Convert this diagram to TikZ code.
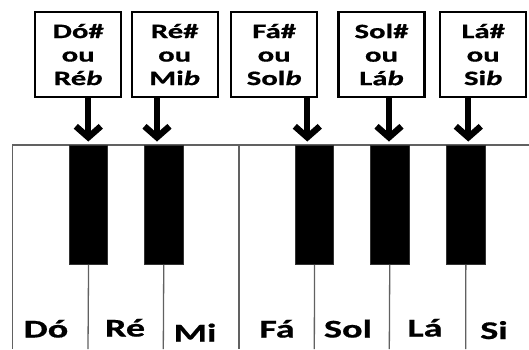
\documentclass[tikz,border=0pt]{standalone}
\usepackage{fontspec}
\setmainfont{Carlito}[FakeStretch=1.5,BoldFeatures={FakeBold=0.7},BoldItalicFeatures={FakeBold=0.7}]
\usetikzlibrary{arrows.meta}
\begin{document}
\begin{tikzpicture}[x=1pt,y=-1pt,
  notebox/.style={draw=black,line width=2.4pt,minimum width=86pt,minimum height=84.7pt,inner sep=0pt,anchor=north west,align=center,
    font=\bfseries\fontsize{20.5}{23.5}\selectfont},
  keyline/.style={draw=black!62,line width=1.3pt},
  blackkey/.style={fill=black,draw=black!80,line width=0.8pt,inner sep=0pt,anchor=north west,minimum width=38.3pt,minimum height=119pt},
  pointer/.style={line width=6.3pt,-{Straight Barb[length=11pt,width=25pt]}},
  keylabel/.style={font=\bfseries\fontsize{25.5}{28}\selectfont,anchor=base,inner sep=0pt}]
\fill[white] (0,0) rectangle (529,349);
\useasboundingbox (0,0) rectangle (529,349);
% boxes
\node[notebox] (b1) at (34,11) {Dó\#\\ou\\Ré\textit{b}};
\node[notebox] (b2) at (130.5,11) {Ré\#\\ou\\Mi\textit{b}};
\node[notebox] (b3) at (230,11) {Fá\#\\ou\\Sol\textit{b}};
\node[notebox] (b4) at (337.3,11) {Sol\#\\ou\\Lá\textit{b}};
\node[notebox] (b5) at (439,11) {Lá\#\\ou\\Si\textit{b}};
% keyboard outline
\coordinate (tl) at (12.7,145);
\coordinate (tr) at (529,145);
\coordinate (bl) at (12.7,349);
\draw[keyline] (bl) -- (tl) -- (tr);
\coordinate (mf1) at (239,145);
\coordinate (mf2) at (239,349);
\draw[keyline] (mf1) -- (mf2);
% black keys
\node[blackkey] (k1) at (69,145) {};
\node[blackkey] (k2) at (144.2,145) {};
\node[blackkey] (k3) at (295,145) {};
\node[blackkey] (k4) at (370.2,145) {};
\node[blackkey] (k5) at (446.3,145) {};
\foreach \k/\x in {k1/88,k2/163.3,k3/314.3,k4/389.3,k5/465.7}{
  \coordinate (\k b) at (\x,349);
  \draw[keyline] (\k.south) -- (\k b);
}
% arrows
\coordinate (t1) at (88.3,141.5);
\coordinate (t2) at (157,141.5);
\coordinate (t3) at (307.3,141.5);
\coordinate (t4) at (389,141.5);
\coordinate (t5) at (468.3,141.5);
\foreach \i in {1,...,5}{
  \draw[pointer] (b\i.south -| t\i) -- (t\i);
}
% labels
\node[keylabel] (l1) at (46,337.5) {Dó};
\node[keylabel] (l2) at (125,336.5) {Ré};
\node[keylabel] (l3) at (195,341.5) {Mi};
\node[keylabel] (l4) at (277,337.5) {Fá};
\node[keylabel] (l5) at (348,337.5) {Sol};
\node[keylabel] (l6) at (425,336.5) {Lá};
\node[keylabel] (l7) at (494,339) {Si};
\end{tikzpicture}
\end{document}
